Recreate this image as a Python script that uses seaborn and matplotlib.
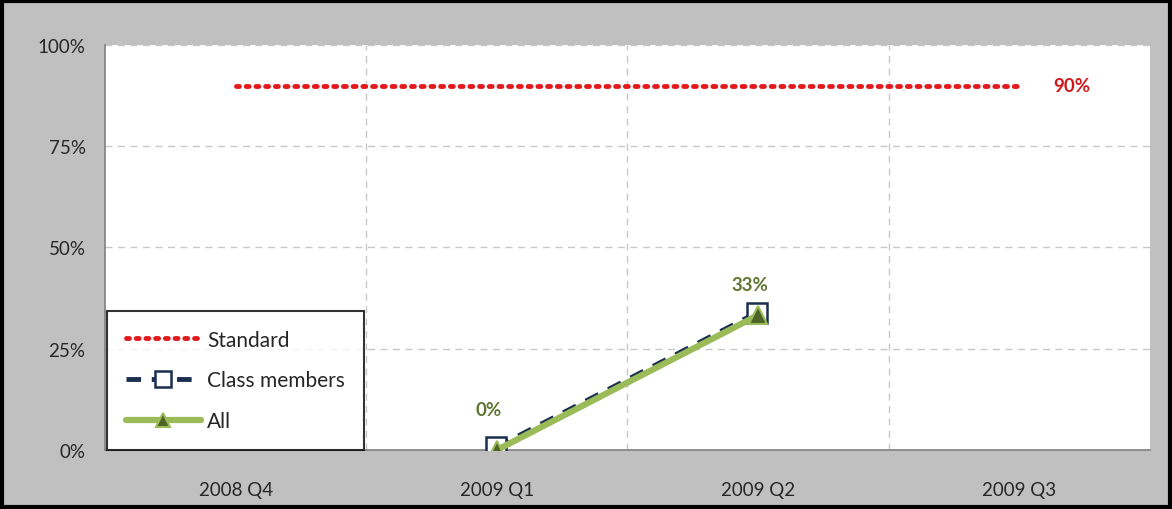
import matplotlib
matplotlib.use("Agg")
import matplotlib.pyplot as plt
import matplotlib.patches as patches
import matplotlib.transforms as mtransforms
import seaborn as sns
import pandas as pd
import numpy as np

quarters = ['2008 Q4', '2009 Q1', '2009 Q2', '2009 Q3']
standard = [0.90, 0.90, 0.90, 0.90]
class_members = [np.nan, 0.0, 0.333, np.nan]
all_values = [np.nan, 0.0, 0.333, np.nan]
y_ticks = [0, 0.25, 0.5, 0.75, 1.0]
y_tick_labels = ['0%', '25%', '50%', '75%', '100%']

sns.set_style("white")
plt.rcParams['font.family'] = ['Lato', 'DejaVu Sans']

pos = list(range(len(quarters)))
df = pd.DataFrame({'pos': pos, 'quarter': quarters, 'Standard': standard,
                   'Class members': class_members, 'All': all_values})

fig = plt.figure(figsize=(11.72, 5.10), dpi=100, facecolor='#c0c0c0')
ax = fig.add_axes([0.0896, 0.1157, 0.8916, 0.7941])
ax.set_facecolor('white')

# grid
for y in y_ticks[1:]:
    ax.axhline(y, color='#c8c8c8', lw=1, ls=(0, (5, 4)), zorder=0)
for x in [0.5, 1.5, 2.5]:
    ax.axvline(x, color='#c8c8c8', lw=1, ls=(0, (5, 4)), zorder=0)

sns.lineplot(data=df, x='pos', y='Standard', ax=ax, color='#e31a1c', lw=3.5,
             linestyle=(0, (0.6, 1.4)), dash_capstyle='round', label='Standard',
             zorder=3)
sns.lineplot(data=df.dropna(subset=['Class members']), x='pos', y='Class members',
             ax=ax, color='#1b2f4f', lw=3.5, linestyle=(0, (3, 2.2)),
             marker='s', markersize=15, markerfacecolor='white',
             markeredgecolor='#1b2f4f', markeredgewidth=1.8,
             label='Class members', zorder=4)
# navy line peeks out slightly above the green one, as in the source
nav = ax.get_lines()[-1]
nav.set_transform(ax.transData + mtransforms.ScaledTranslation(-1 / 100, 2.5 / 100, fig.dpi_scale_trans))
sns.lineplot(data=df.dropna(subset=['All']), x='pos', y='All', ax=ax,
             color='#9bbb59', lw=4.5, marker='^', markersize=13,
             markerfacecolor='#4f6228', markeredgecolor='#9bbb59',
             markeredgewidth=1.5, label='All', zorder=5)

# value labels
ax.text(3.2, standard[-1], f"{standard[-1]:.0%}", color='#d0181c',
        fontsize=13.5, fontweight='bold', va='center', ha='center')
offsets = {1: (-0.03, 0.1), 2: (-0.03, 0.075)}
for i, v in enumerate(all_values):
    if not np.isnan(v):
        dx, dy = offsets[i]
        ax.text(i + dx, v + dy, f"{v:.0%}", color='#5f7530', fontsize=13.5,
                fontweight='bold', ha='center', va='center')

ax.set_xlim(-0.5, 3.5)
ax.set_ylim(0, 1.0)
ax.set_yticks(y_ticks)
ax.set_yticklabels(y_tick_labels, fontsize=13.5)
ax.set_xticks(pos)
ax.set_xticklabels(quarters, fontsize=13.5)
ax.set_xticks([-0.5, 0.5, 1.5, 2.5, 3.5], minor=True)
ax.tick_params(axis='x', which='major', length=0, pad=22)
ax.tick_params(axis='x', which='minor', length=5, color='#808080', direction='out')
ax.tick_params(axis='y', length=6, color='#808080', direction='out', pad=8)
ax.set_xlabel('')
ax.set_ylabel('')
for s in ['top', 'right']:
    ax.spines[s].set_visible(False)
for s in ['left', 'bottom']:
    ax.spines[s].set_color('#808080')
    ax.spines[s].set_linewidth(1.2)

leg = ax.legend(loc='lower left', bbox_to_anchor=(0.002, 0.0), fontsize=15,
                frameon=True, fancybox=False, edgecolor='black',
                borderpad=0.9, labelspacing=1.0, handlelength=3.6,
                handletextpad=0.3, borderaxespad=0, markerscale=0.8)
leg.get_frame().set_linewidth(1.5)
leg.set_zorder(10)

fig.patches.append(patches.Rectangle((0.002, 0.003), 0.996, 0.994,
                                     transform=fig.transFigure, fill=False,
                                     edgecolor='black', lw=3))

fig.savefig('out.png', dpi=100, facecolor=fig.get_facecolor())
